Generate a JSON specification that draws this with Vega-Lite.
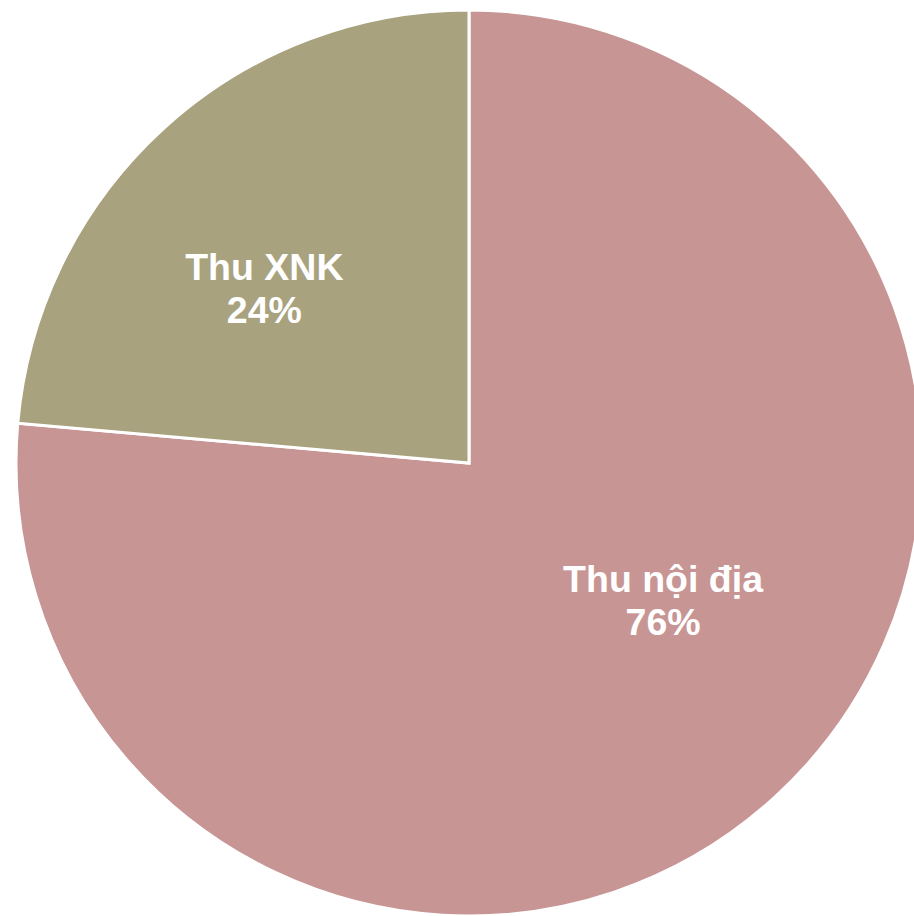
{
  "$schema": "https://vega.github.io/schema/vega-lite/v6.json",
  "width": 938,
  "height": 926,
  "autosize": "none",
  "padding": 0,
  "background": "white",
  "data": {
    "values": [
      {"nguon": "Thu nội địa", "tyle": 76.4, "nhan": "76%", "thutu": 1},
      {"nguon": "Thu XNK", "tyle": 23.6, "nhan": "24%", "thutu": 2}
    ]
  },
  "encoding": {
    "theta": {"field": "tyle", "type": "quantitative", "stack": true},
    "order": {"field": "thutu", "type": "quantitative"}
  },
  "layer": [
    {
      "mark": {"type": "arc", "outerRadius": 453, "stroke": "white", "strokeWidth": 3},
      "encoding": {
        "color": {
          "field": "nguon",
          "type": "nominal",
          "scale": {"domain": ["Thu nội địa", "Thu XNK"], "range": ["#C89595", "#A9A27E"]},
          "legend": null
        }
      }
    },
    {
      "mark": {
        "type": "text", "radius": 237, "dx": 34, "dy": -57,
        "font": "Liberation Sans", "fontSize": 37.5, "fontWeight": "bold",
        "color": "white", "align": "center", "baseline": "middle", "lineHeight": 43
      },
      "encoding": {
        "text": {"condition": {"test": "datum.thutu == 1", "value": ["Thu nội địa", "76%"]}, "value": ""}
      }
    },
    {
      "mark": {
        "type": "text", "radius": 269, "dx": -23, "dy": 4,
        "font": "Liberation Sans", "fontSize": 37.5, "fontWeight": "bold",
        "color": "white", "align": "center", "baseline": "middle", "lineHeight": 43
      },
      "encoding": {
        "text": {"condition": {"test": "datum.thutu == 2", "value": ["Thu XNK", "24%"]}, "value": ""}
      }
    }
  ],
  "config": {"view": {"stroke": null}}
}
